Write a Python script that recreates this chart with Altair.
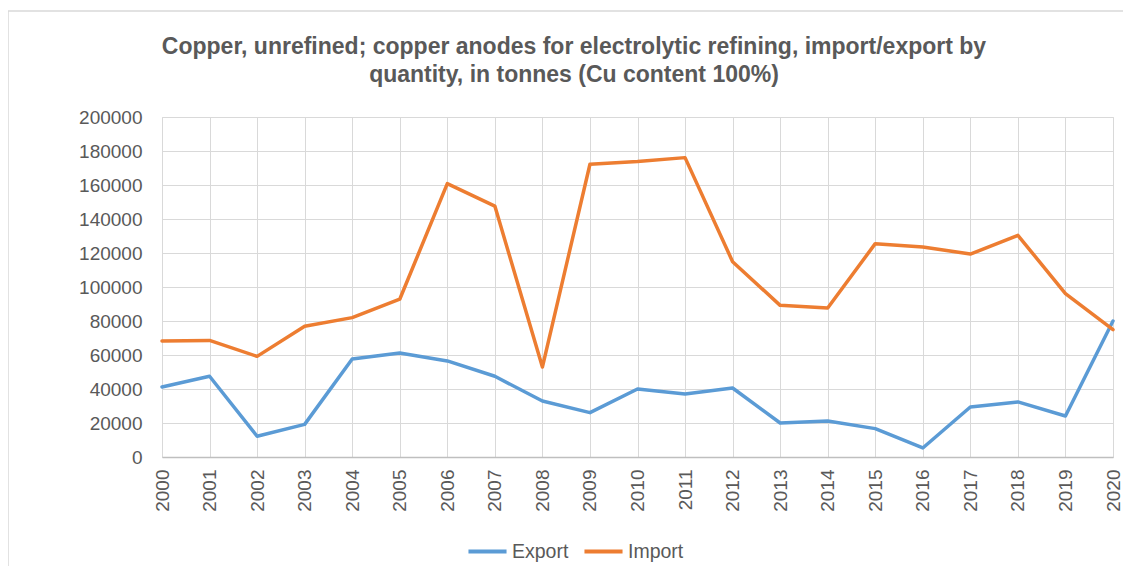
import altair as alt
import pandas as pd

years = [str(y) for y in range(2000, 2021)]
export_vals = [41200, 47500, 12200, 19200, 57600, 61200, 56500, 47500, 32900, 26100,
               40000, 37100, 40600, 20000, 21200, 16700, 5300, 29400, 32400, 24100, 80000]
import_vals = [68200, 68600, 59200, 76900, 82000, 92800, 160800, 147600, 52900, 172200,
               173800, 176100, 114900, 89200, 87600, 125500, 123500, 119400, 130400, 96100, 74900]
series_names = ["Export", "Import"]
series_colors = ["#5B9BD5", "#ED7D31"]
title_lines = ["Copper, unrefined; copper anodes for electrolytic refining, import/export by",
               "quantity, in tonnes (Cu content 100%)"]

rows = []
for y, e, i in zip(years, export_vals, import_vals):
    rows.append({"Year": y, "Series": "Export", "Value": e})
    rows.append({"Year": y, "Series": "Import", "Value": i})
df = pd.DataFrame(rows)

FONT = "Liberation Sans"
GREY = "#595959"

W, H = 951, 340
LEFT = 154

lines = alt.Chart(df).mark_line(strokeWidth=3.5, strokeCap="round", strokeJoin="round").encode(
    x=alt.X("Year:O", scale=alt.Scale(padding=0),
            axis=alt.Axis(title=None, labelAngle=-90, labelFontSize=19, labelColor=GREY,
                          labelFont=FONT, ticks=False, labelPadding=12, domainColor="#bfbfbf",
                          domainWidth=1.5, grid=True, gridColor="#d9d9d9", labelBaseline="middle")),
    y=alt.Y("Value:Q", scale=alt.Scale(domain=[0, 200000], nice=False),
            axis=alt.Axis(title=None, values=list(range(0, 200001, 20000)), labelFontSize=19,
                          labelColor=GREY, labelFont=FONT, ticks=False, domain=False,
                          labelPadding=20, gridColor="#d9d9d9", format="d")),
    color=alt.Color("Series:N", scale=alt.Scale(domain=series_names, range=series_colors),
                    legend=alt.Legend(title=None, orient="none", direction="horizontal",
                                      legendX=304, legendY=413, symbolType="stroke",
                                      symbolSize=1450, symbolStrokeWidth=4, labelFontSize=19.5,
                                      labelFont=FONT, labelColor=GREY, columnPadding=7,
                                      labelOffset=3)),
)

one = pd.DataFrame({"a": [0]})

border = alt.Chart(one).mark_rect(fill=None, stroke="#d9d9d9", strokeWidth=1.5).encode(
    x=alt.value(-LEFT), x2=alt.value(W + 40), y=alt.value(-106), y2=alt.value(H + 130)
)

title1 = alt.Chart(one).mark_text(fontSize=23, font=FONT, fontWeight="bold", color=GREY,
                                  align="center", baseline="middle").encode(
    x=alt.value(412), y=alt.value(-70), text=alt.value(title_lines[0]))
title2 = alt.Chart(one).mark_text(fontSize=23, font=FONT, fontWeight="bold", color=GREY,
                                  align="center", baseline="middle").encode(
    x=alt.value(412), y=alt.value(-42), text=alt.value(title_lines[1]))

chart = alt.layer(border, lines, title1, title2).properties(
    width=W, height=H,
    autosize=alt.AutoSizeParams(type="none"),
    padding={"left": LEFT, "top": 109, "right": 10, "bottom": 109},
).configure_view(stroke="#d9d9d9").configure(background="white")

chart.save("out.html", embed_options={"renderer": "svg", "actions": False})
